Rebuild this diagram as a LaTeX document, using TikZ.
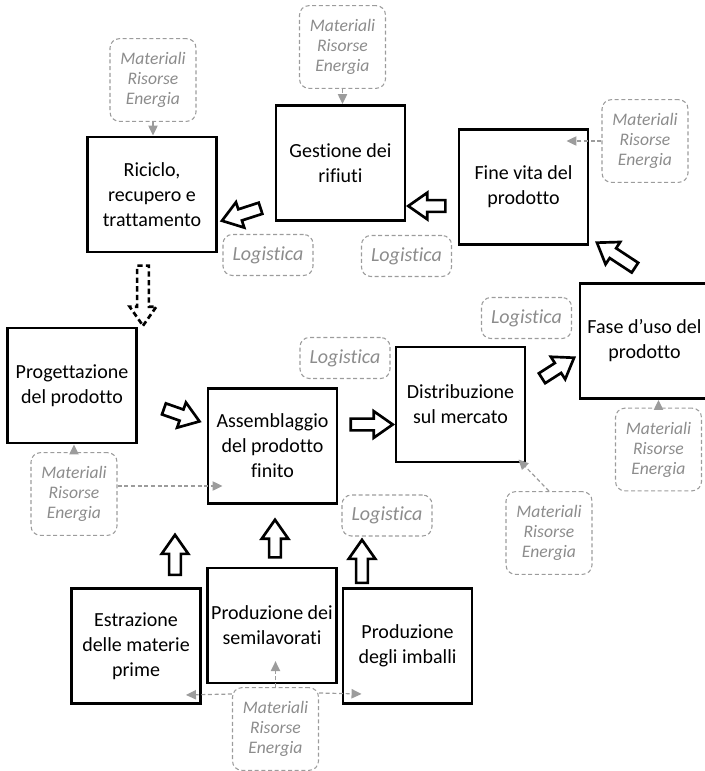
\documentclass[tikz,border=0pt]{standalone}
\usepackage{fontspec}
\setmainfont{Carlito}[Ligatures=NoCommon]
\usetikzlibrary{calc,arrows.meta,shapes.arrows}
\definecolor{inputgray}{HTML}{9C9C9C}
\definecolor{labelgray}{HTML}{8C8C8C}
\tikzset{
	stage/.style={draw, line width=2.2pt, minimum width=96.75pt, minimum height=86.25pt, inner sep=1pt, align=center, font=\fontsize{15}{18.75}\selectfont},
	resource/.style={draw=inputgray, dash pattern=on 3pt off 2pt, line width=0.8pt, rounded corners=7pt, minimum width=64.5pt, minimum height=62pt, inner sep=1pt, align=center, text=labelgray, font=\fontsize{13.2}{15}\selectfont\itshape},
	logist/.style={resource, minimum width=67.5pt, minimum height=30.75pt, font=\fontsize{15}{17}\selectfont\itshape},
	feed/.style={draw=inputgray, dash pattern=on 3pt off 2pt, line width=0.9pt, -{Triangle[length=7.5pt,width=7pt]}},
	hollow/.style={single arrow, draw, line width=2pt, fill=white, inner sep=3.4pt, single arrow head extend=5.6pt, single arrow tip angle=70, allow upside down, sloped}
}
\def\flow[#1](#2)(#3){\path let \p1=($(#3)-(#2)$), \n1={veclen(\x1,\y1)} in (#2) -- (#3) node[hollow, #1, midway, minimum height=\n1]{};}

\begin{document}
\begin{tikzpicture}[x=0.75pt, y=-0.75pt]
	%%%%% START %%%%%
	\useasboundingbox (0,0) rectangle (704,771);
	
	% fasi
	\node[stage] (ric) at (152,194.5) {Riciclo,\\recupero e\\trattamento};
	\node[stage] (gest) at (340.5,163) {Gestione dei\\rifiuti};
	\node[stage] (fine) at (523.5,187) {Fine vita del\\prodotto};
	\node[stage] (prog) at (72,385.5) {Progettazione\\del prodotto};
	\node[stage] (assem) at (272.5,446) {Assemblaggio\\del prodotto\\finito};
	\node[stage] (dist) at (460.5,404.5) {Distribuzione\\sul mercato};
	\node[stage] (fase) at (644.5,341) {Fase d’uso del\\prodotto};
	\node[stage] (estr) at (136,646) {Estrazione\\delle materie\\prime};
	\node[stage] (semi) at (272,625.5) {Produzione dei\\semilavorati};
	\node[stage] (imb) at (407.5,646) {Produzione\\degli imballi};
	
	% input
	\node[resource] (mRic) at (153,80) {Materiali\\Risorse\\Energia};
	\node[resource] (mGest) at (342.5,47) {Materiali\\Risorse\\Energia};
	\node[resource] (mFine) at (645,141) {Materiali\\Risorse\\Energia};
	\node[resource] (mProg) at (74,494) {Materiali\\Risorse\\Energia};
	\node[resource] (mDist) at (549,533) {Materiali\\Risorse\\Energia};
	\node[resource] (mFase) at (658.5,449.5) {Materiali\\Risorse\\Energia};
	\node[resource] (mBase) at (275.5,729) {Materiali\\Risorse\\Energia};
	
	\node[logist] (lRic) at (268,255) {Logistica};
	\node[logist] (lFine) at (406.5,256) {Logistica};
	\node[logist] (lAssem) at (345,358) {Logistica};
	\node[logist] (lDist) at (526.5,318) {Logistica};
	\node[logist] (lImb) at (387,515.5) {Logistica};
	
	% frecce grigie
	\draw[feed] (mRic.south) -- (mRic.south |- ric.north);
	\draw[feed] (mGest.south) -- (mGest.south |- gest.north);
	\draw[feed] (mFine.west) -- ++(-35,0);
	\draw[feed] (mProg.north) -- (mProg.north |- prog.south);
	\draw[feed] ($(mProg.east)+(0,-8)$) -- ($(assem.west)+(16,40)$);
	\draw[feed] (mDist.north) -- ($(dist.south east)+(-8,-4)$);
	\draw[feed] (mFase.north) -- (mFase.north |- fase.south);
	\draw[feed] (mBase.north) -- ++(0,-26);
	\draw[feed] ($(mBase.west)+(0,-35)$) -- ($(estr.south east)+(-16,-10)$);
	\draw[feed] ($(mBase.east)+(0,-36)$) -- ($(imb.south west)+(20,-11)$);
	
	% frecce di flusso
	\coordinate (a1s) at ($(gest.south west)+(-10,-15)$);
	\coordinate (a1e) at ($(ric.south east)+(8,-34)$);
	\coordinate (a2s) at ($(fine.west)+(-8,19)$);
	\coordinate (a2e) at ($(gest.east)+(6,43)$);
	\coordinate (a3s) at ($(fine.south east)+(49,24)$);
	\coordinate (a3e) at ($(fine.south east)+(11,-1)$);
	\coordinate (a4s) at ($(dist.east)+(12,-24)$);
	\coordinate (a4e) at ($(fase.west)+(-8,19)$);
	\coordinate (a5s) at ($(dist.west)+(-48,20)$);
	\coordinate (a5e) at ($(dist.west)+(-6,20)$);
	\coordinate (a6s) at ($(prog.east)+(22,22)$);
	\coordinate (a6e) at ($(assem.west)+(-11,-26)$);
	\coordinate (a7s) at ($(ric.south)+(-9,8)$);
	\coordinate (a7e) at ($(prog.north)+(71,-5)$);
	\coordinate (a8s) at ($(estr.north)+(39,-8)$);
	\coordinate (a8e) at ($(estr.north)+(39,-48)$);
	\coordinate (a9s) at ($(semi.north)+(3,-5)$);
	\coordinate (a9e) at ($(assem.south)+(2.5,19)$);
	\coordinate (a10s) at ($(imb.north)+(-45.5,0)$);
	\coordinate (a10e) at ($(lImb.south)+(-25,7.5)$);
	
	\flow[](a1s)(a1e)
	\flow[](a2s)(a2e)
	\flow[](a3s)(a3e)
	\flow[](a4s)(a4e)
	\flow[](a5s)(a5e)
	\flow[](a6s)(a6e)
	\flow[dash pattern=on 4pt off 2.5pt](a7s)(a7e)
	\flow[](a8s)(a8e)
	\flow[](a9s)(a9e)
	\flow[](a10s)(a10e)
	%%%%% END %%%%%
\end{tikzpicture}
\end{document}
